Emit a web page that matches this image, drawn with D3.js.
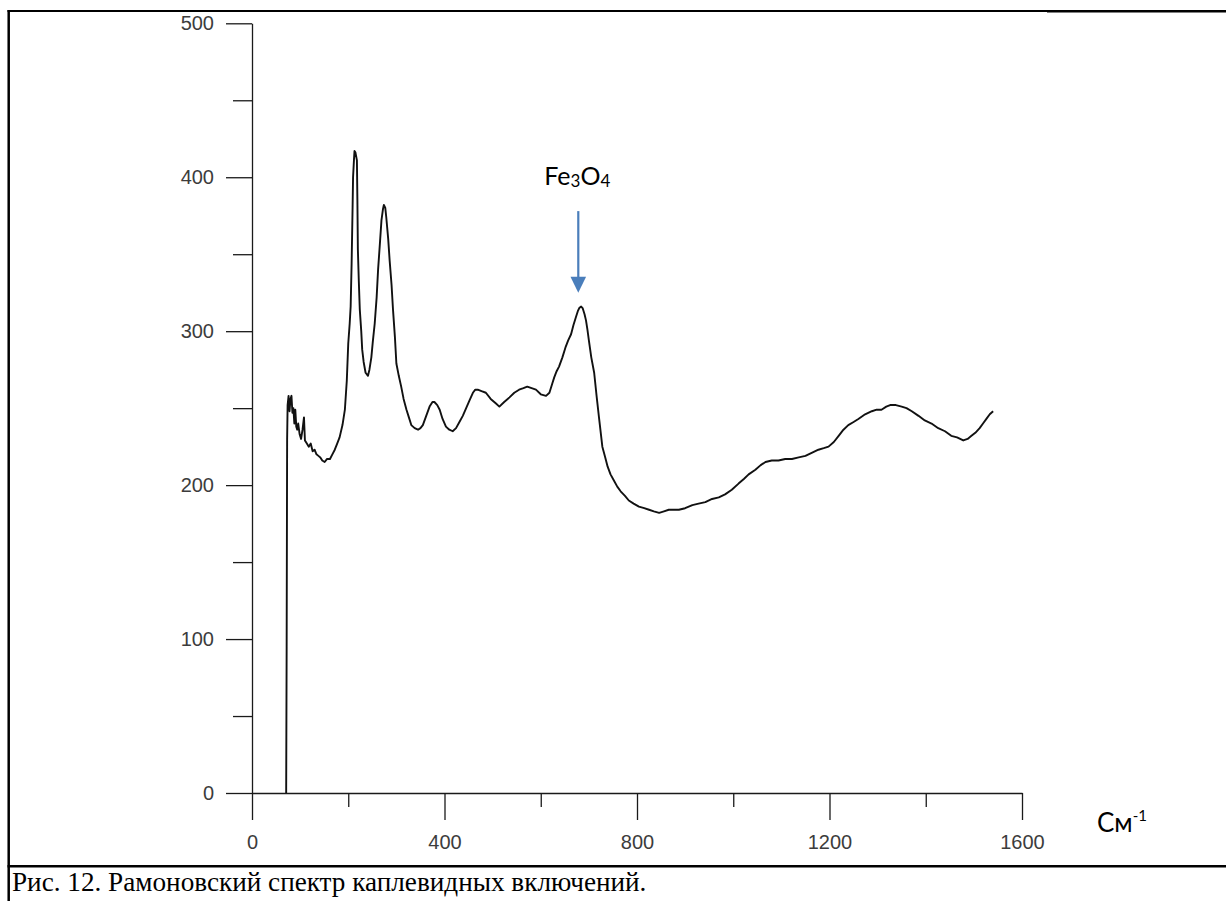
<!DOCTYPE html>
<html>
<head>
<meta charset="utf-8">
<script src="https://cdn.jsdelivr.net/npm/d3@7/dist/d3.min.js"></script>
<style>
  html, body { margin: 0; padding: 0; background: #fff; }
  svg { display: block; }
</style>
</head>
<body>
<svg id="chart" width="1226" height="901"></svg>
<script>
// Raman shift, cm^-1
const wavenumber = [
  71, 72, 73, 74, 76, 78, 80, 82, 84, 86, 88, 90, 92, 94, 96, 99, 102, 105, 108, 110,
  114, 118, 122, 126, 130, 134, 138, 142, 146, 151, 156, 162, 167, 172, 177, 182, 188, 193, 197, 200,
  203, 205, 207, 209, 210, 212, 213, 215, 218, 219, 220, 222, 224, 227, 229, 232, 236, 241, 244, 248,
  251, 255, 259, 262, 266, 269, 272, 274, 277, 279, 283, 286, 290, 293, 297, 300, 305, 310, 315, 321,
  326, 331, 338, 345, 350, 355, 362, 369, 375, 379, 385, 390, 396, 403, 410, 417, 424, 431, 438, 445,
  452, 459, 464, 469, 477, 486, 496, 507, 514, 524, 535, 545, 555, 564, 572, 581, 590, 600, 611, 618,
  624, 628, 633, 638, 645, 652, 657, 663, 668, 673, 677, 680, 684, 687, 691, 694, 697, 700, 705, 711,
  716, 721, 728, 734, 739, 745, 752, 759, 766, 775, 783, 793, 804, 815, 825, 835, 846, 856, 866, 876,
  887, 900, 915, 928, 942, 956, 970, 983, 997, 1011, 1022, 1032, 1046, 1057, 1067, 1080, 1094, 1108, 1122, 1136,
  1150, 1163, 1177, 1188, 1198, 1209, 1219, 1229, 1239, 1250, 1260, 1274, 1288, 1298, 1308, 1318, 1326, 1338, 1350, 1360,
  1371, 1385, 1398, 1412, 1426, 1440, 1453, 1465, 1478, 1487, 1495, 1503, 1512, 1519, 1526, 1533, 1540
];

// Intensity, counts
const intensity = [
  0, 95, 230, 252, 258, 248, 256, 258, 247, 250, 240, 249, 238, 236, 240, 233, 230, 236, 244, 229,
  227, 225, 227, 222, 223, 220, 219, 218, 216, 215, 217, 217, 220, 223, 227, 231, 239, 249, 268, 292,
  305, 316, 344, 380, 400, 412, 417, 416, 411, 385, 353, 332, 314, 300, 288, 280, 273, 271, 275, 283,
  293, 305, 322, 340, 358, 372, 379, 382, 380, 374, 360, 346, 330, 314, 296, 279, 271, 264, 256, 249,
  244, 239, 237, 236, 237, 239, 245, 251, 254, 254, 252, 249, 243, 238, 236, 235, 237, 241, 245, 250,
  255, 260, 262, 262, 261, 260, 256, 253, 251, 254, 257, 260, 262, 263, 264, 263, 262, 259, 258, 260,
  266, 270, 274, 277, 283, 290, 294, 298, 304, 309, 313, 315, 316, 315, 311, 307, 301, 294, 283, 273,
  258, 244, 225, 218, 212, 207, 203, 199, 196, 193, 190, 188, 186, 185, 184, 183, 182, 183, 184, 184,
  184, 185, 187, 188, 189, 191, 192, 194, 197, 201, 204, 207, 210, 213, 215, 216, 216, 217, 217, 218,
  219, 221, 223, 224, 225, 228, 232, 236, 239, 241, 243, 246, 248, 249, 249, 251, 252, 252, 251, 250,
  248, 245, 242, 240, 237, 235, 232, 231, 229, 230, 232, 234, 237, 240, 243, 246, 248
];

const xMajorTicks = [0, 400, 800, 1200, 1600];
const xMinorTicks = [200, 600, 1000, 1400];
const yMajorTicks = [0, 100, 200, 300, 400, 500];
const yMinorTicks = [50, 150, 250, 350, 450];

// Peak annotation (data units)
const peakLabel = ["Fe", "3", "O", "4"];
const peakArrow = { x: 678, textY: 395, from: 378, to: 325 };

const captionText = "Рис. 12. Рамоновский спектр каплевидных включений.";
const xUnitText = ["См", "-1"];

const svg = d3.select("#chart");

const x = d3.scaleLinear().domain([0, 1600]).range([252, 1022]);
const y = d3.scaleLinear().domain([0, 500]).range([793, 23.3]);

// Outer frame
svg.append("line").attr("x1", 8.7).attr("x2", 8.7).attr("y1", 10).attr("y2", 901)
  .attr("stroke", "#000").attr("stroke-width", 2.5);
svg.append("line").attr("x1", 7.5).attr("x2", 1047).attr("y1", 11).attr("y2", 11)
  .attr("stroke", "#000").attr("stroke-width", 2);
svg.append("line").attr("x1", 1047).attr("x2", 1226).attr("y1", 11.3).attr("y2", 11.3)
  .attr("stroke", "#000").attr("stroke-width", 2.6);
svg.append("line").attr("x1", 7.5).attr("x2", 1226).attr("y1", 866.3).attr("y2", 866.3)
  .attr("stroke", "#000").attr("stroke-width", 2.5);

const axisColor = "#1a1a1a";
const labelFont = "'Liberation Sans', Arial, sans-serif";

function styleAxis(g) {
  g.selectAll("path.domain").attr("stroke", axisColor).attr("stroke-width", 1.3);
  g.selectAll(".tick line").attr("stroke", axisColor).attr("stroke-width", 1.3);
  g.selectAll(".tick text")
    .attr("font-family", labelFont).attr("font-size", 20).attr("fill", "#3c3c3c");
}

const intFormat = d3.format("d");

// Y axis: major + minor
const gy = svg.append("g").attr("transform", "translate(252,0)")
  .call(d3.axisLeft(y).tickValues(yMajorTicks).tickFormat(intFormat)
    .tickSize(26).tickSizeOuter(0).tickPadding(12));
styleAxis(gy);
const gyMinor = svg.append("g").attr("transform", "translate(252,0)")
  .call(d3.axisLeft(y).tickValues(yMinorTicks).tickSize(19).tickFormat(""));
gyMinor.select("path.domain").remove();
styleAxis(gyMinor);

// X axis: major + minor
const gx = svg.append("g").attr("transform", "translate(0,793)")
  .call(d3.axisBottom(x).tickValues(xMajorTicks).tickFormat(intFormat)
    .tickSize(27).tickSizeOuter(0).tickPadding(15));
styleAxis(gx);
const gxMinor = svg.append("g").attr("transform", "translate(0,793)")
  .call(d3.axisBottom(x).tickValues(xMinorTicks).tickSize(14).tickFormat(""));
gxMinor.select("path.domain").remove();
styleAxis(gxMinor);

// Spectrum
const points = wavenumber.map((w, i) => [w, intensity[i]]);
const line = d3.line().x(d => x(d[0])).y(d => y(d[1]));
svg.append("path").datum(points)
  .attr("d", line)
  .attr("fill", "none")
  .attr("stroke", "#111")
  .attr("stroke-width", 1.9)
  .attr("stroke-linejoin", "round");

// Peak annotation with arrow
const arrowColor = "#4a7ebb";
const ax = x(peakArrow.x);
svg.append("line")
  .attr("x1", ax).attr("x2", ax)
  .attr("y1", y(peakArrow.from)).attr("y2", y(peakArrow.to) - 14)
  .attr("stroke", arrowColor).attr("stroke-width", 2.2);
svg.append("path")
  .attr("d", `M${ax - 7.8},${y(peakArrow.to) - 16} L${ax + 7.8},${y(peakArrow.to) - 16} L${ax},${y(peakArrow.to)} Z`)
  .attr("fill", arrowColor);

const peakText = svg.append("text")
  .attr("x", ax - 1).attr("y", y(peakArrow.textY))
  .attr("text-anchor", "middle")
  .attr("font-family", "Lato, 'Open Sans', sans-serif")
  .attr("font-size", 25).attr("fill", "#000");
peakLabel.forEach((s, i) => {
  const t = peakText.append("tspan").text(s);
  if (i % 2 === 1) t.attr("font-size", 17).attr("dy", 2);
  else if (i > 0) t.attr("dy", -2);
});

// Axis unit
const unit = svg.append("text")
  .attr("x", 1097).attr("y", 832)
  .attr("font-family", "Lato, 'Open Sans', sans-serif")
  .attr("font-size", 26).attr("fill", "#000");
unit.append("tspan").text(xUnitText[0]);
unit.append("tspan").text(xUnitText[1]).attr("font-size", 15).attr("dy", -11);

// Caption
svg.append("text")
  .attr("x", 12).attr("y", 891)
  .attr("font-family", "'Liberation Serif', 'Times New Roman', serif")
  .attr("font-size", 27.2).attr("fill", "#000")
  .text(captionText);
</script>
</body>
</html>
